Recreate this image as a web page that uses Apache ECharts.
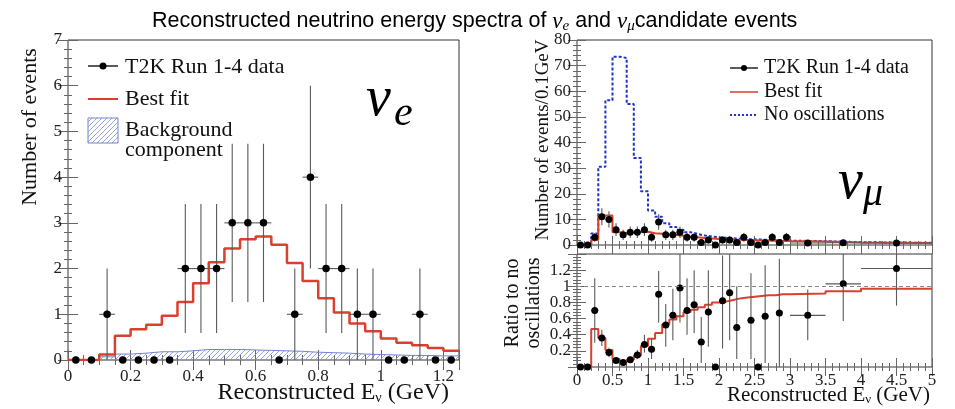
<!DOCTYPE html>
<html>
<head>
<meta charset="utf-8">
<script src="https://cdn.jsdelivr.net/npm/echarts@6/dist/echarts.min.js"></script>
<style>
html, body { margin: 0; padding: 0; background: #fff; }
#main { width: 955px; height: 409px; }
</style>
</head>
<body>
<div id="main"></div>
<script>
// ---- nu_e candidates (0.05 GeV bins) ----
const nueEdges = [0, 0.05, 0.1, 0.15, 0.2, 0.25, 0.3, 0.35, 0.4, 0.45, 0.5, 0.55, 0.6,
    0.65, 0.7, 0.75, 0.8, 0.85, 0.9, 0.95, 1.0, 1.05, 1.1, 1.15, 1.2, 1.25];
const nueFit = [0, 0, 0.12, 0.53, 0.67, 0.77, 0.97, 1.27, 1.68, 2.14, 2.44, 2.64, 2.70,
    2.52, 2.12, 1.73, 1.35, 1.04, 0.80, 0.63, 0.47, 0.38, 0.32, 0.26, 0.20];
const nueBkg = [0, 0, 0.07, 0.13, 0.15, 0.18, 0.18, 0.2, 0.23, 0.23, 0.23, 0.22, 0.21,
    0.2, 0.19, 0.17, 0.16, 0.15, 0.13, 0.12, 0.11, 0.1, 0.1, 0.09, 0.09];
const nueX = [0.025, 0.075, 0.125, 0.175, 0.225, 0.275, 0.325, 0.375, 0.425, 0.475, 0.525,
    0.575, 0.625, 0.675, 0.725, 0.775, 0.825, 0.875, 0.925, 0.975, 1.025, 1.075, 1.125, 1.175, 1.225];
const nueCounts = [0, 0, 1, 0, 0, 0, 0, 2, 2, 2, 3, 3, 3, 0, 1, 4, 2, 2, 1, 1, 0, 0, 1, 0, 0];
const nueLo = [0, 0, 0, 0, 0, 0, 0, 0.59, 0.59, 0.59, 1.27, 1.27, 1.27, 0, 0, 2, 0.59, 0.59, 0, 0, 0, 0, 0, 0, 0];
const nueHi = [0, 0, 2, 0, 0, 0, 0, 3.41, 3.41, 3.41, 4.73, 4.73, 4.73, 0, 2, 6, 3.41, 3.41, 2, 2, 0, 0, 2, 0, 0];

// ---- nu_mu candidates (0.1 GeV bins to 3 GeV, then wider) ----
const muEdges = [0, 0.1, 0.2, 0.3, 0.4, 0.5, 0.6, 0.7, 0.8, 0.9, 1.0, 1.1, 1.2, 1.3, 1.4, 1.5,
    1.6, 1.7, 1.8, 1.9, 2.0, 2.1, 2.2, 2.3, 2.4, 2.5, 2.6, 2.7, 2.8, 2.9, 3.0, 3.5, 4.0, 5.0];
const muNoOsc = [0, 0, 4.5, 30.5, 56.5, 73.5, 73, 55, 34, 21, 13.5, 11, 8.5, 7, 6, 5, 4.3, 3.7,
    3.3, 3.0, 2.8, 2.6, 2.45, 2.3, 2.2, 2.1, 2.0, 1.9, 1.8, 1.7, 1.5, 1.1, 0.85];
const muFit = [0, 0, 2.0, 11.5, 11.5, 5.0, 4.6, 4.8, 5.0, 5.2, 4.6, 4.4, 4.0, 3.9, 3.6, 3.2, 3.0,
    2.7, 2.5, 2.3, 2.2, 2.1, 2.0, 1.95, 1.9, 1.8, 1.75, 1.7, 1.6, 1.55, 1.4, 1.0, 0.8];
const muX = [0.05, 0.15, 0.25, 0.35, 0.45, 0.55, 0.65, 0.75, 0.85, 0.95, 1.05, 1.15, 1.25, 1.35,
    1.45, 1.55, 1.65, 1.75, 1.85, 1.95, 2.05, 2.15, 2.25, 2.35, 2.45, 2.55, 2.65, 2.75, 2.85, 2.95,
    3.25, 3.75, 4.5];
const muCounts = [0, 0, 3, 11, 10, 6, 4, 5, 5, 6, 3, 9, 4, 4, 5, 3, 3, 1, 2, 0, 2, 2, 1, 3, 1, 0,
    1, 3, 1, 3, 0.8, 0.9, 0.8];
const muLo = [0, 0, 1.27, 7.68, 6.84, 3.55, 2, 2.76, 2.76, 3.55, 1.27, 6, 2, 2, 2.76, 1.27, 1.27,
    0, 0.59, 0, 0.59, 0.59, 0, 1.27, 0, 0, 0, 1.27, 0, 1.27, 0.4, 0.45, 0.5];
const muHi = [0, 0, 4.73, 14.32, 13.16, 8.45, 6, 7.24, 7.24, 8.45, 4.73, 12, 6, 6, 7.24, 4.73, 4.73,
    2, 3.41, 0, 3.41, 3.41, 2, 4.73, 2, 0, 2, 4.73, 2, 4.73, 1.2, 1.35, 1.1];
const muHalfW = [0.05, 0.05, 0.05, 0.05, 0.05, 0.05, 0.05, 0.05, 0.05, 0.05, 0.05, 0.05, 0.05,
    0.05, 0.05, 0.05, 0.05, 0.05, 0.05, 0.05, 0.05, 0.05, 0.05, 0.05, 0.05, 0.05, 0.05, 0.05,
    0.05, 0.05, 0.25, 0.25, 0.5];

// ---- ratio to no oscillations ----
const ratioFit = [0, 0, 0.47, 0.36, 0.21, 0.10, 0.06, 0.09, 0.14, 0.26, 0.35, 0.42, 0.53, 0.59,
    0.63, 0.68, 0.71, 0.74, 0.77, 0.80, 0.81, 0.83, 0.85, 0.86, 0.87, 0.88, 0.89, 0.89, 0.90,
    0.90, 0.91, 0.94, 0.97];
const ratioX = [0.05, 0.15, 0.25, 0.35, 0.45, 0.55, 0.65, 0.75, 0.85, 0.95, 1.05, 1.15, 1.25,
    1.35, 1.45, 1.55, 1.65, 1.75, 1.85, 1.95, 2.05, 2.15, 2.25, 2.45, 2.55, 2.65, 2.85, 3.25, 3.75, 4.5];
const ratioVal = [0, 0, 0.70, 0.36, 0.18, 0.08, 0.055, 0.09, 0.15, 0.28, 0.22, 0.90, 0.52, 0.64,
    0.98, 0.70, 0.77, 0.31, 0.68, 0, 0.82, 0.92, 0.49, 0.58, 0, 0.63, 0.67, 0.64, 1.03, 1.22];
const ratioLo = [0, 0, 0.30, 0.26, 0.12, 0.05, 0.03, 0.06, 0.10, 0.18, 0.10, 0.55, 0.25, 0.33,
    0.55, 0.40, 0.42, 0.05, 0.25, 0, 0.23, 0.33, 0.10, 0.10, 0, 0.05, 0.0, 0.33, 0.57, 0.76];
const ratioHi = [0, 0, 1.10, 0.46, 0.24, 0.11, 0.08, 0.13, 0.21, 0.40, 0.35, 1.19, 0.78, 0.97,
    1.40, 1.10, 1.20, 0.62, 1.20, 0, 1.38, 1.45, 1.00, 1.16, 0, 1.26, 1.34, 0.96, 1.45, 1.45];
const ratioHalfW = [0.05, 0.05, 0.05, 0.05, 0.05, 0.05, 0.05, 0.05, 0.05, 0.05, 0.05, 0.05, 0.05,
    0.05, 0.05, 0.05, 0.05, 0.05, 0.05, 0.05, 0.05, 0.05, 0.05, 0.05, 0.05, 0.05, 0.05, 0.25, 0.25, 0.5];

const SERIF = 'Liberation Serif';
const RED = '#d9402e';
const BLUE = '#1f35c8';

// histogram outline: value held over each bin
const stepData = (edges, vals) => vals.map((v, i) => [edges[i], v]).concat([[edges[edges.length - 1], vals[vals.length - 1]]]);
const pointData = (xs, ys) => xs.map((x, i) => [x, ys[i]]);
const errData = (xs, ys, lo, hi, hw) => xs.map((x, i) => [x, ys[i], lo[i], hi[i], typeof hw === 'number' ? hw : hw[i]])
    .filter(d => d[1] > 0);

const makeHatch = () => {
    const c = document.createElement('canvas');
    c.width = 5; c.height = 5;
    const g = c.getContext('2d');
    g.strokeStyle = '#7f8fd8';
    g.lineWidth = 0.8;
    g.beginPath();
    g.moveTo(0, 5); g.lineTo(5, 0);
    g.moveTo(-1, 1); g.lineTo(1, -1);
    g.moveTo(4, 6); g.lineTo(6, 4);
    g.stroke();
    return c;
};
const hatch = { image: makeHatch(), repeat: 'repeat' };

const renderErr = (params, api) => {
    const x = api.value(0), y = api.value(1), lo = api.value(2), hi = api.value(3), hw = api.value(4);
    const a = api.coord([x, lo]), b = api.coord([x, hi]);
    const l = api.coord([x - hw, y]), r = api.coord([x + hw, y]);
    const st = { stroke: '#5a5a5a', lineWidth: 1.1 };
    return {
        type: 'group',
        children: [
            { type: 'line', shape: { x1: a[0], y1: a[1], x2: b[0], y2: b[1] }, style: st },
            { type: 'line', shape: { x1: l[0], y1: l[1], x2: r[0], y2: r[1] }, style: st }
        ]
    };
};

const tickLabel = { fontFamily: SERIF, fontSize: 17, color: '#222' };

const valueAxis = (o) => Object.assign({
    type: 'value',
    axisLine: { show: false },
    splitLine: { show: false },
    axisTick: { show: true, inside: true, length: 9, lineStyle: { color: '#666' } },
    minorTick: { show: true, splitNumber: 5, length: 4, lineStyle: { color: '#666' } },
    axisLabel: Object.assign({ margin: 6 }, tickLabel)
}, o);
const mirror = (o) => valueAxis(Object.assign({ axisLabel: { show: false } }, o));

const fmt = step => v => (Math.abs(v / step - Math.round(v / step)) < 1e-6 ? String(+v.toFixed(2)) : '');

const chart = echarts.init(document.getElementById('main'));

chart.setOption({
    animation: false,
    textStyle: { fontFamily: SERIF },
    title: {
        text: 'Reconstructed neutrino energy spectra of {nu|ν}{sub|e} and {nu|ν}{sub|μ}candidate events',
        left: 147,
        top: 4,
        textStyle: {
            fontFamily: 'Liberation Sans', fontSize: 21.5, fontWeight: 'normal', color: '#000',
            rich: {
                nu: { fontFamily: SERIF, fontStyle: 'italic', fontSize: 23, color: '#000' },
                sub: { fontFamily: SERIF, fontStyle: 'italic', fontSize: 15, color: '#000', padding: [10, 0, 0, 0] }
            }
        }
    },
    grid: [
        { left: 68, top: 40, width: 391, height: 320, show: true, borderColor: '#333', borderWidth: 1, outerBoundsMode: 'none' },
        { left: 577, top: 40, width: 355, height: 205, show: true, borderColor: '#333', borderWidth: 1, outerBoundsMode: 'none' },
        { left: 577, top: 254, width: 355, height: 113, show: true, borderColor: '#333', borderWidth: 1, outerBoundsMode: 'none' }
    ],
    xAxis: [
        valueAxis({ gridIndex: 0, min: 0, max: 1.25, interval: 0.2, minorTick: { show: true, splitNumber: 4, length: 5, lineStyle: { color: '#666' } },
            axisTick: { show: true, inside: true, length: 10, lineStyle: { color: '#666' } },
            axisLabel: Object.assign({ margin: 8, formatter: fmt(0.2) }, tickLabel) }),
        mirror({ gridIndex: 0, position: 'top', min: 0, max: 1.25, interval: 0.2,
            axisTick: { show: true, inside: true, length: 10, lineStyle: { color: '#666' } },
            minorTick: { show: true, splitNumber: 4, length: 5, lineStyle: { color: '#666' } } }),
        mirror({ gridIndex: 1, min: 0, max: 5, interval: 0.5 }),
        mirror({ gridIndex: 1, position: 'top', min: 0, max: 5, interval: 0.5 }),
        valueAxis({ gridIndex: 2, min: 0, max: 5, interval: 0.5, axisLabel: Object.assign({ margin: 5 }, tickLabel) }),
        mirror({ gridIndex: 2, position: 'top', min: 0, max: 5, interval: 0.5 })
    ],
    yAxis: [
        valueAxis({ gridIndex: 0, min: 0, max: 7, interval: 1,
            axisTick: { show: true, inside: true, length: 10, lineStyle: { color: '#666' } } }),
        mirror({ gridIndex: 0, position: 'right', min: 0, max: 7, interval: 1,
            axisTick: { show: true, inside: true, length: 10, lineStyle: { color: '#666' } } }),
        valueAxis({ gridIndex: 1, min: 0, max: 80, interval: 10 }),
        mirror({ gridIndex: 1, position: 'right', min: 0, max: 80, interval: 10 }),
        valueAxis({ gridIndex: 2, min: 0, max: 1.4, interval: 0.2, axisLabel: Object.assign({ margin: 6, formatter: v => (v > 1.3 ? '' : String(+v.toFixed(2))) }, tickLabel) }),
        mirror({ gridIndex: 2, position: 'right', min: 0, max: 1.4, interval: 0.2 })
    ],
    series: [
        {
            type: 'line', xAxisIndex: 0, yAxisIndex: 0, step: 'end', showSymbol: false, z: 1,
            data: stepData(nueEdges, nueBkg),
            lineStyle: { color: '#7383d2', width: 1 },
            areaStyle: { color: hatch, opacity: 1 }
        },
        {
            type: 'line', xAxisIndex: 0, yAxisIndex: 0, step: 'end', showSymbol: false, z: 2,
            data: stepData(nueEdges, nueFit),
            lineStyle: { color: RED, width: 2.5 }
        },
        {
            type: 'custom', xAxisIndex: 0, yAxisIndex: 0, z: 3, clip: true,
            renderItem: renderErr, encode: { x: 0, y: 1 },
            data: errData(nueX, nueCounts, nueLo, nueHi, 0.025)
        },
        {
            type: 'scatter', xAxisIndex: 0, yAxisIndex: 0, z: 4, symbolSize: 7.5,
            itemStyle: { color: '#000', opacity: 1 }, data: pointData(nueX, nueCounts)
        },
        {
            type: 'line', xAxisIndex: 2, yAxisIndex: 2, step: 'end', showSymbol: false, z: 1,
            data: stepData(muEdges, muNoOsc),
            lineStyle: { color: BLUE, width: 2, type: [3, 2] }
        },
        {
            type: 'line', xAxisIndex: 2, yAxisIndex: 2, step: 'end', showSymbol: false, z: 2,
            data: stepData(muEdges, muFit),
            lineStyle: { color: RED, width: 2 }
        },
        {
            type: 'custom', xAxisIndex: 2, yAxisIndex: 2, z: 3, clip: true,
            renderItem: renderErr, encode: { x: 0, y: 1 },
            data: errData(muX, muCounts, muLo, muHi, muHalfW)
        },
        {
            type: 'scatter', xAxisIndex: 2, yAxisIndex: 2, z: 4, symbolSize: 7,
            itemStyle: { color: '#000', opacity: 1 }, data: pointData(muX, muCounts)
        },
        {
            type: 'line', xAxisIndex: 4, yAxisIndex: 4, step: 'end', showSymbol: false, z: 2,
            data: stepData(muEdges, ratioFit),
            lineStyle: { color: RED, width: 2 },
            markLine: {
                silent: true, symbol: 'none', label: { show: false },
                lineStyle: { color: '#888', type: [4, 3], width: 1 },
                data: [{ yAxis: 1 }]
            }
        },
        {
            type: 'custom', xAxisIndex: 4, yAxisIndex: 4, z: 3, clip: true,
            renderItem: renderErr, encode: { x: 0, y: 1 },
            data: errData(ratioX, ratioVal, ratioLo, ratioHi, ratioHalfW)
        },
        {
            type: 'scatter', xAxisIndex: 4, yAxisIndex: 4, z: 4, symbolSize: 7,
            itemStyle: { color: '#000', opacity: 1 }, data: pointData(ratioX, ratioVal)
        }
    ],
    graphic: [
        // left legend
        { type: 'line', shape: { x1: 88, y1: 66, x2: 118, y2: 66 }, style: { stroke: '#000', lineWidth: 1.3 } },
        { type: 'circle', shape: { cx: 103, cy: 66, r: 3.5 }, style: { fill: '#000' } },
        { type: 'text', x: 125, y: 67, style: { text: 'T2K Run 1-4 data', font: '22px "Liberation Serif"', fill: '#111', textVerticalAlign: 'middle' } },
        { type: 'line', shape: { x1: 88, y1: 99, x2: 118, y2: 99 }, style: { stroke: RED, lineWidth: 2 } },
        { type: 'text', x: 125, y: 99, style: { text: 'Best fit', font: '22px "Liberation Serif"', fill: '#111', textVerticalAlign: 'middle' } },
        { type: 'rect', shape: { x: 88, y: 118, width: 30, height: 25 }, style: { fill: hatch, stroke: '#7383d2', lineWidth: 1 } },
        { type: 'text', x: 125, y: 130, style: { text: 'Background', font: '22px "Liberation Serif"', fill: '#111', textVerticalAlign: 'middle' } },
        { type: 'text', x: 125, y: 150, style: { text: 'component', font: '22px "Liberation Serif"', fill: '#111', textVerticalAlign: 'middle' } },
        // right legend
        { type: 'line', shape: { x1: 730, y1: 68, x2: 758, y2: 68 }, style: { stroke: '#000', lineWidth: 1.3 } },
        { type: 'circle', shape: { cx: 744, cy: 68, r: 3 }, style: { fill: '#000' } },
        { type: 'text', x: 764, y: 68, style: { text: 'T2K Run 1-4 data', font: '20px "Liberation Serif"', fill: '#111', textVerticalAlign: 'middle' } },
        { type: 'line', shape: { x1: 730, y1: 92, x2: 758, y2: 92 }, style: { stroke: RED, lineWidth: 1.5 } },
        { type: 'text', x: 764, y: 92, style: { text: 'Best fit', font: '20px "Liberation Serif"', fill: '#111', textVerticalAlign: 'middle' } },
        { type: 'line', shape: { x1: 730, y1: 115, x2: 758, y2: 115 }, style: { stroke: BLUE, lineWidth: 2, lineDash: [2, 2] } },
        { type: 'text', x: 764, y: 115, style: { text: 'No oscillations', font: '20px "Liberation Serif"', fill: '#111', textVerticalAlign: 'middle' } },
        // big flavour labels
        { type: 'text', x: 366, y: 100, style: { text: 'ν', font: 'italic 56px "Liberation Serif"', fill: '#000', textVerticalAlign: 'middle' } },
        { type: 'text', x: 394, y: 114, style: { text: 'e', font: 'italic 42px "Liberation Serif"', fill: '#000', textVerticalAlign: 'middle' } },
        { type: 'text', x: 838, y: 183, style: { text: 'ν', font: 'italic 56px "Liberation Serif"', fill: '#000', textVerticalAlign: 'middle' } },
        { type: 'text', x: 863, y: 194, style: { text: 'μ', font: 'italic 40px "Liberation Serif"', fill: '#000', textVerticalAlign: 'middle' } },
        // axis titles
        { type: 'text', x: 30, y: 127, rotation: Math.PI / 2, style: { text: 'Number of events', font: '22px "Liberation Serif"', fill: '#111', textAlign: 'center', textVerticalAlign: 'middle' } },
        { type: 'text', x: 543, y: 140, rotation: Math.PI / 2, style: { text: 'Number of events/0.1GeV', font: '19px "Liberation Serif"', fill: '#111', textAlign: 'center', textVerticalAlign: 'middle' } },
        { type: 'text', x: 513, y: 303, rotation: Math.PI / 2, style: { text: 'Ratio to no', font: '20px "Liberation Serif"', fill: '#111', textAlign: 'center', textVerticalAlign: 'middle' } },
        { type: 'text', x: 534, y: 303, rotation: Math.PI / 2, style: { text: 'oscillations', font: '20px "Liberation Serif"', fill: '#111', textAlign: 'center', textVerticalAlign: 'middle' } },
        { type: 'text', x: 449, y: 393, style: { text: 'Reconstructed E{s|ν} (GeV)', font: '24px "Liberation Serif"', fill: '#111', textAlign: 'right', textVerticalAlign: 'middle',
            rich: { s: { fontFamily: SERIF, fontSize: 14, fill: '#111', padding: [11, 0, 0, 0] } } } },
        { type: 'text', x: 930, y: 395, style: { text: 'Reconstructed E{s|ν} (GeV)', font: '21px "Liberation Serif"', fill: '#111', textAlign: 'right', textVerticalAlign: 'middle',
            rich: { s: { fontFamily: SERIF, fontSize: 13, fill: '#111', padding: [10, 0, 0, 0] } } } }
    ]
});
window.onresize = () => chart.resize();
</script>
</body>
</html>
